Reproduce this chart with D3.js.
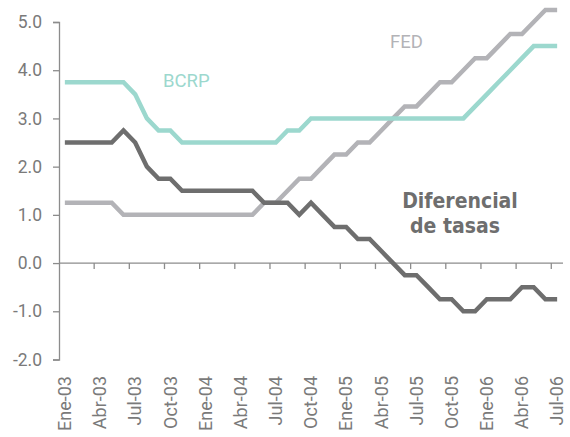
<!DOCTYPE html>
<meta charset="utf-8">
<script src="https://d3js.org/d3.v7.min.js"></script>
<style>
  body { margin: 0; background: #fff; }
  text { font-family: Roboto, "Liberation Sans", sans-serif; }
</style>
<div id="vis"></div>
<script>

// months Ene-03 .. Jul-06 (43 months), rates in %
var months = ["Ene-03","Feb-03","Mar-03","Abr-03","May-03","Jun-03","Jul-03","Ago-03","Sep-03","Oct-03","Nov-03","Dic-03",
              "Ene-04","Feb-04","Mar-04","Abr-04","May-04","Jun-04","Jul-04","Ago-04","Sep-04","Oct-04","Nov-04","Dic-04",
              "Ene-05","Feb-05","Mar-05","Abr-05","May-05","Jun-05","Jul-05","Ago-05","Sep-05","Oct-05","Nov-05","Dic-05",
              "Ene-06","Feb-06","Mar-06","Abr-06","May-06","Jun-06","Jul-06"];

var bcrp = [3.75,3.75,3.75,3.75,3.75,3.75,3.5,3.0,2.75,2.75,2.5,2.5,
            2.5,2.5,2.5,2.5,2.5,2.5,2.5,2.75,2.75,3.0,3.0,3.0,
            3.0,3.0,3.0,3.0,3.0,3.0,3.0,3.0,3.0,3.0,3.0,3.25,
            3.5,3.75,4.0,4.25,4.5,4.5,4.5];

var fed = [1.25,1.25,1.25,1.25,1.25,1.0,1.0,1.0,1.0,1.0,1.0,1.0,
           1.0,1.0,1.0,1.0,1.0,1.25,1.25,1.5,1.75,1.75,2.0,2.25,
           2.25,2.5,2.5,2.75,3.0,3.25,3.25,3.5,3.75,3.75,4.0,4.25,
           4.25,4.5,4.75,4.75,5.0,5.25,5.25];

var diferencial = [2.5,2.5,2.5,2.5,2.5,2.75,2.5,2.0,1.75,1.75,1.5,1.5,
                   1.5,1.5,1.5,1.5,1.5,1.25,1.25,1.25,1.0,1.25,1.0,0.75,
                   0.75,0.5,0.5,0.25,0.0,-0.25,-0.25,-0.5,-0.75,-0.75,-1.0,-1.0,
                   -0.75,-0.75,-0.75,-0.5,-0.5,-0.75,-0.75];

var yTicks = [-2, -1, 0, 1, 2, 3, 4, 5];
var xLabels = ["Ene-03","Abr-03","Jul-03","Oct-03","Ene-04","Abr-04","Jul-04","Oct-04",
               "Ene-05","Abr-05","Jul-05","Oct-05","Ene-06","Abr-06","Jul-06"];

var width = 570, height = 437;

var svg = d3.select("#vis")
  .append("svg")
    .attr("width", width)
    .attr("height", height);

// x: one band per month
var x = d3.scaleBand()
  .domain(months)
  .range([59, 563])
  .padding(0);

var y = d3.scaleLinear()
  .domain([-2, 5])
  .range([359.5, 22]);

var axisColor = "#8c8c8c";
var textColor = "#7a7a7a";

// Y axis
var yAxis = svg.append("g")
  .attr("transform", "translate(59,0)")
  .call(d3.axisLeft(y).tickValues(yTicks).tickSize(6).tickPadding(11)
        .tickFormat(d3.format(".1f")));
yAxis.select(".domain").attr("stroke", axisColor).attr("stroke-width", 1.3);
yAxis.selectAll(".tick line").attr("stroke", axisColor).attr("stroke-width", 1.3);
yAxis.selectAll(".tick text")
  .attr("fill", textColor)
  .style("font-size", "17.5px")
  .text(function(d) { return d < 0 ? "-" + d3.format(".1f")(-d) : d3.format(".1f")(d); });

// zero line with ticks every 3 months
var zeroAxis = svg.append("g")
  .attr("transform", "translate(0," + y(0) + ")");
zeroAxis.append("line")
  .attr("x1", x.range()[0]).attr("x2", x.range()[1])
  .attr("stroke", axisColor).attr("stroke-width", 1.3);
zeroAxis.selectAll(".zt")
  .data(months.filter(function(d, i) { return i % 3 === 0 && i > 0; }))
  .enter().append("line")
    .attr("x1", function(d) { return x(d); })
    .attr("x2", function(d) { return x(d); })
    .attr("y1", 0).attr("y2", 6)
    .attr("stroke", axisColor).attr("stroke-width", 1.3);

// month labels at the bottom
var xAxis = svg.append("g")
  .attr("transform", "translate(0,371)")
  .call(d3.axisBottom(x).tickValues(xLabels).tickSize(0).tickPadding(0));
xAxis.select(".domain").remove();
xAxis.selectAll(".tick text")
  .attr("fill", textColor)
  .style("font-size", "18px")
  .style("text-anchor", "end")
  .attr("dy", "0.35em")
  .attr("transform", "rotate(-90) translate(-5,0)")
  .attr("x", null).attr("y", 0);

// lines
var line = d3.line()
  .x(function(d, i) { return x(months[i]) + x.bandwidth() / 2; })
  .y(function(d) { return y(d); });

var series = [
  {values: fed, color: "#b3b3b7"},
  {values: bcrp, color: "#9cd8ce"},
  {values: diferencial, color: "#6e6e6e"}
];

svg.selectAll(".serie")
  .data(series)
  .enter().append("path")
    .attr("fill", "none")
    .attr("stroke", function(d) { return d.color; })
    .attr("stroke-width", 4.5)
    .attr("stroke-linejoin", "miter")
    .attr("d", function(d) { return line(d.values); });

// series labels
svg.append("text")
  .attr("x", 163).attr("y", 87)
  .attr("fill", "#9cd8ce")
  .style("font-size", "18.5px")
  .text("BCRP");

svg.append("text")
  .attr("x", 390).attr("y", 48)
  .attr("fill", "#b3b3b7")
  .style("font-size", "18.5px")
  .text("FED");

svg.append("text")
  .attr("x", 460).attr("y", 208)
  .attr("text-anchor", "middle")
  .attr("fill", "#6e6e6e")
  .style("font-family", "'DejaVu Sans Condensed', 'DejaVu Sans', sans-serif")
  .style("font-weight", "bold")
  .style("font-size", "21px")
  .text("Diferencial");

svg.append("text")
  .attr("x", 455).attr("y", 233)
  .attr("text-anchor", "middle")
  .attr("fill", "#6e6e6e")
  .style("font-family", "'DejaVu Sans Condensed', 'DejaVu Sans', sans-serif")
  .style("font-weight", "bold")
  .style("font-size", "21px")
  .text("de tasas");

</script>
